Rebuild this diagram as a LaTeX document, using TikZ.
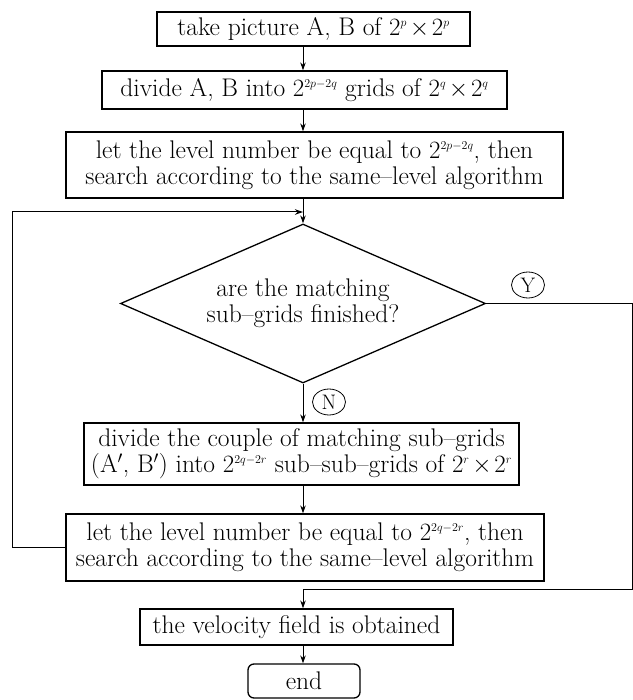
\documentclass[tikz,border=0pt]{standalone}
\usetikzlibrary{shapes.geometric,arrows.meta}
\newcommand{\sq}[1]{^{\scriptscriptstyle #1}}
\newcommand{\tms}{\mskip2mu{\times}\mskip2mu}
\begin{document}
\begin{tikzpicture}[x=1pt,y=1pt,
  every node/.style={font=\fontsize{25.5}{26}\selectfont},
  box/.style={draw,line width=1.3pt,rectangle,inner sep=0pt,align=center},
  dec/.style={draw,line width=1.3pt,diamond,inner sep=0pt,align=center,aspect=2.3},
  tag/.style={draw,line width=0.8pt,ellipse,inner sep=0pt,minimum width=33pt,minimum height=26pt,font=\fontsize{21}{22}\selectfont},
  arr/.style={line width=1pt,-{Stealth[length=8pt,width=5.5pt]}}]
\useasboundingbox (0,0) rectangle (632,-700);
\coordinate (axis) at (303,0);
\node[box,minimum width=313pt,minimum height=34pt] (b1) at (313.5,-29) {take picture A, B of $2\sq{p}\tms 2\sq{p}$};
\node[box,minimum width=405pt,minimum height=38pt] (b2) at (304.5,-90) {divide A, B into $2\sq{2p-2q}$ grids of $2\sq{q}\tms 2\sq{q}$};
\node[box,minimum width=497pt,minimum height=66pt] (b3) at (314.5,-165) {let the level number be equal to $2\sq{2p-2q}$, then\\search according to the same--level algorithm};
\node[dec,minimum width=365pt,minimum height=159pt] (d) at (303,-303.5) {are the matching\\sub--grids finished?};
\node[box,minimum width=435pt,minimum height=62pt] (b4) at (301.5,-454) {divide the couple of matching sub--grids\\(A$'$, B$'$) into $2\sq{2q-2r}$ sub--sub--grids of $2\sq{r}\tms 2\sq{r}$};
\node[box,minimum width=478pt,minimum height=67pt] (b5) at (305,-547.5) {let the level number be equal to $2\sq{2q-2r}$, then\\search according to the same--level algorithm};
\node[box,minimum width=313pt,minimum height=36pt] (b6) at (296.5,-627) {the velocity field is obtained};
\node[box,rounded corners=6pt,minimum width=112pt,minimum height=34pt] (e) at (304,-681) {end};
\node[tag] (y) at (528,-285) {Y};
\node[tag] (n) at (329,-402) {N};
\coordinate (top) at (303,-212);
\coordinate (lt) at (12,-212);
\coordinate (lb) at (12,-547.5);
\coordinate (rt) at (632,-303.5);
\coordinate (rb) at (632,-589);
\coordinate (mb) at (303,-589);
\draw[arr] (b1.south -| axis) -- (b2.north -| axis);
\draw[arr] (b2.south -| axis) -- (b3.north -| axis);
\draw[arr] (b3.south -| axis) -- (d.north);
\draw[arr] (d.south) -- (b4.north -| axis);
\draw[arr] (b4.south -| axis) -- (b5.north -| axis);
\draw[arr] (b5.west) -- (lb) -- (lt) -- (top);
\draw[arr] (d.east) -- (rt) -- (rb) -- (mb) -- (b6.north -| axis);
\draw[arr] (b6.south -| axis) -- (e.north -| axis);
\end{tikzpicture}
\end{document}
